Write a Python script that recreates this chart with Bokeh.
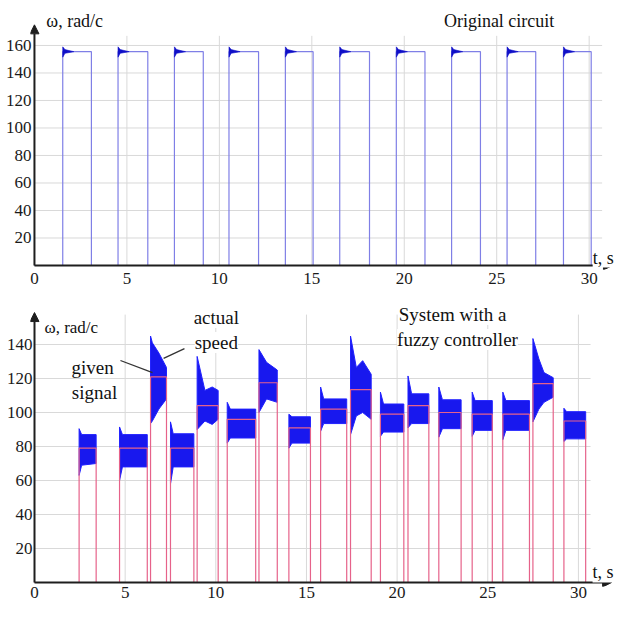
from bokeh.plotting import figure
from bokeh.layouts import column
from bokeh.models import Label, Arrow, NormalHead, FixedTicker, Range1d
from bokeh.embed import file_html
from bokeh.resources import INLINE

# ---------------- data ----------------
x_ticks = [0, 5, 10, 15, 20, 25, 30]
top_y_ticks = [20, 40, 60, 80, 100, 120, 140, 160]
bot_y_ticks = [20, 40, 60, 80, 100, 120, 140]

# Original circuit: speed pulses (rise / fall times, s) and level (rad/s)
orig_rise = [1.53, 4.52, 7.57, 10.52, 13.57, 16.51, 19.57, 22.56, 25.56, 28.61]
orig_fall = [3.08, 6.13, 9.13, 12.12, 15.07, 18.12, 21.12, 24.12, 27.11, 30.11]
orig_level = 155.5
orig_over_hi = 159.0
orig_over_lo = 151.5
orig_settle = 0.6

# System with fuzzy controller: given signal
fz_rise = [2.46, 4.69, 6.40, 7.50, 8.97, 10.63, 12.38, 14.03, 15.78, 17.43,
           19.08, 20.60, 22.30, 24.14, 25.83, 27.49, 29.20]
fz_fall = [3.40, 6.22, 7.28, 8.79, 10.13, 12.20, 13.39, 15.22, 17.22, 18.57,
           20.37, 21.75, 23.53, 25.25, 27.30, 28.61, 30.40]
fz_given = [79, 79, 121, 79, 104, 96, 117.5, 91, 102, 113.5,
            99, 104, 100, 99, 99, 117, 95]

# actual speed envelope (time points, upper and lower bounds)
speed_t = [
    [2.46, 2.60, 3.40], [4.69, 4.85, 6.22], [6.40, 6.50, 6.86, 7.28],
    [7.50, 7.65, 8.79], [8.97, 9.40, 9.80, 10.13], [10.63, 10.80, 12.20],
    [12.38, 12.80, 13.39], [14.03, 14.20, 15.22], [15.78, 15.95, 17.22],
    [17.43, 17.75, 18.10, 18.57], [19.08, 19.25, 20.37], [20.60, 20.80, 21.75],
    [22.30, 22.50, 23.53], [24.14, 24.30, 25.25], [25.83, 26.00, 27.30],
    [27.49, 27.82, 28.10, 28.61], [29.20, 29.35, 30.40],
]
speed_hi = [
    [90.5, 87, 87], [91.5, 87, 87], [145, 141, 135, 126.5],
    [94.5, 87.5, 87.5], [133, 113, 115, 113], [106, 102, 102],
    [137, 129.5, 125], [99, 97.5, 97.5], [115, 108, 108],
    [145, 126.5, 130.5, 122.5], [112, 105, 105], [121.5, 111, 111],
    [115, 107.5, 107.5], [112, 107, 107], [112, 107, 107],
    [143.5, 131.5, 123.5, 120.5], [102.5, 100.5, 100.5],
]
speed_lo = [
    [63, 69, 70], [60, 68, 68], [93.5, 95, 102, 108],
    [58, 68, 68], [90, 95, 93, 96], [82, 85, 85],
    [100, 108, 106], [79, 82, 82], [89, 93.5, 93.5],
    [87, 98, 100, 96], [86, 88.5, 88.5], [91, 93.5, 93.5],
    [85.5, 90.5, 90.5], [86, 89.5, 89.5], [84, 89.5, 89.5],
    [94.5, 102, 106, 109], [83, 84.5, 84.5],
]

# leader lines from the "given signal" / "actual speed" notes
lead_x0 = [4.74, 8.27]
lead_y0 = [130.6, 137.6]
lead_x1 = [6.51, 7.12]
lead_y1 = [123.5, 131.8]

# ---------------- styling ----------------
FONT = '"Liberation Serif", "Times New Roman", serif'
AX = "#1e1e1e"
GRID = "#d9d9d9"


def step_xy(rises, falls, levels, end):
    xs, ys = [0], [0]
    for r, f, l in zip(rises, falls, levels):
        xs += [r, r, f, f]
        ys += [0, l, l, 0]
    xs.append(end)
    ys.append(0)
    return xs, ys


def style(p, yticks, xstand, ystand):
    p.xgrid.visible = False
    p.ygrid.visible = False
    p.outline_line_color = None
    p.background_fill_color = "white"
    p.border_fill_color = "white"
    p.xaxis.ticker = FixedTicker(ticks=x_ticks)
    p.yaxis.ticker = FixedTicker(ticks=yticks)
    for ax in (p.xaxis[0], p.yaxis[0]):
        ax.axis_line_color = None
        ax.major_tick_line_color = None
        ax.minor_tick_line_color = None
        ax.major_tick_in = 0
        ax.major_tick_out = 0
        ax.minor_tick_in = 0
        ax.minor_tick_out = 0
        ax.major_label_text_font = FONT
        ax.major_label_text_font_size = "17px"
        ax.major_label_text_color = "#1a1a1a"
    p.xaxis.major_label_standoff = xstand
    p.yaxis.major_label_standoff = ystand


def grid(p, x_end, y_end, yticks):
    gx = [t for t in x_ticks if t > 0]
    p.segment(x0=gx, y0=[0] * len(gx), x1=gx, y1=[y_end] * len(gx),
              line_color=GRID, line_width=1)
    p.segment(x0=[0] * len(yticks), y0=yticks, x1=[x_end] * len(yticks), y1=yticks,
              line_color=GRID, line_width=1)


def axes_arrows(p, x_tip, y_tip):
    for xs, ys, xe, ye in ((0, 0, 0, y_tip), (0, 0, x_tip, 0)):
        p.add_layout(Arrow(end=NormalHead(size=9, fill_color=AX, line_color=AX),
                           x_start=xs, y_start=ys, x_end=xe, y_end=ye,
                           line_color=AX, line_width=2))


def label(p, x, y, text, size="18px", align="left"):
    p.add_layout(Label(x=x, y=y, text=text, text_font=FONT, text_font_size=size,
                       text_color="#111111", text_align=align,
                       text_baseline="alphabetic",
                       background_fill_color="white", background_fill_alpha=1.0))


# ---------------- top panel ----------------
p1 = figure(width=614, height=292,
            x_range=Range1d(-0.214, 31.37), y_range=Range1d(-2.91, 192.7),
            output_backend="svg", toolbar_location=None,
            min_border_left=24, min_border_right=0, min_border_top=0, min_border_bottom=23)
style(p1, top_y_ticks, 3, -1)
grid(p1, 30.7, 167, top_y_ticks)

xs, ys = step_xy(orig_rise, orig_fall, [orig_level] * len(orig_rise), 30.6)
p1.line(xs, ys, line_color="#7f7fe6", line_width=1.2)
p1.patches(xs=[[r, r + 0.12, r + orig_settle, r + 0.12, r] for r in orig_rise],
           ys=[[orig_over_lo, 154.3, orig_level, 157.0, orig_over_hi] for _ in orig_rise],
           fill_color="#1010c8", line_color="#1010c8", line_width=0.6)
axes_arrows(p1, 31.26, 175.0)
label(p1, 0.64, 177.5, "ω, rad/c")
label(p1, 25.13, 177.5, "Original circuit", align="center")
label(p1, 30.19, 5.8, "t, s")

# ---------------- bottom panel ----------------
p2 = figure(width=614, height=313,
            x_range=Range1d(-0.221, 31.99), y_range=Range1d(-2.35, 170.6),
            output_backend="svg", toolbar_location=None,
            min_border_left=30, min_border_right=0, min_border_top=0, min_border_bottom=19)
style(p2, bot_y_ticks, 0, -2)
grid(p2, 30.67, 157.6, bot_y_ticks)

p2.patches(xs=[t + t[::-1] for t in speed_t],
           ys=[h + l[::-1] for h, l in zip(speed_hi, speed_lo)],
           fill_color="#1818ee", line_color="#2020ff", line_width=1)
xs, ys = step_xy(fz_rise, fz_fall, fz_given, 30.6)
p2.line(xs, ys, line_color="#e6628a", line_width=1.2)
p2.segment(x0=lead_x0, y0=lead_y0, x1=lead_x1, y1=lead_y1,
           line_color="#333333", line_width=1.3)

axes_arrows(p2, 31.83, 158.8)
label(p2, 0.55, 150.0, "ω, rad/c", size="17px")
label(p2, 10.03, 155.9, "actual", size="19px", align="center")
label(p2, 10.03, 141.2, "speed", size="19px", align="center")
label(p2, 3.2, 126.5, "given", size="19px", align="center")
label(p2, 3.31, 111.8, "signal", size="19px", align="center")
label(p2, 23.06, 157.6, "System with a", size="19px", align="center")
label(p2, 23.33, 142.9, "fuzzy controller", size="19px", align="center")
label(p2, 30.78, 5.9, "t, s")

layout = column(p1, p2, spacing=0)
open("out.html", "w").write(file_html(layout, INLINE))
